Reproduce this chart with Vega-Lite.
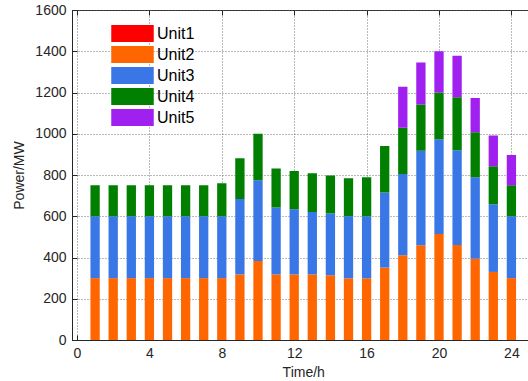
{
  "$schema": "https://vega.github.io/schema/vega-lite/v6.json",
  "width": 462.5,
  "height": 330,
  "autosize": {"type": "none"},
  "padding": {"left": 72, "top": 10, "right": 0, "bottom": 41},
  "background": "white",
  "config": {
    "font": "Liberation Sans",
    "view": {"stroke": "#262626", "strokeWidth": 1},
    "axis": {
      "labelFont": "Liberation Sans",
      "titleFont": "Liberation Sans",
      "labelFontSize": 14,
      "titleFontSize": 14,
      "titleFontWeight": "normal",
      "labelColor": "#262626",
      "titleColor": "#262626",
      "domainColor": "#262626",
      "tickColor": "#262626",
      "tickSize": -5,
      "gridColor": "#666666",
      "gridDash": [1, 2],
      "gridOpacity": 0.9
    },
    "legend": {
      "labelFont": "Liberation Sans",
      "labelFontSize": 16,
      "labelColor": "#000000"
    }
  },
  "data": {
    "values": [
      {"h": 1, "Unit1": 0, "Unit2": 300, "Unit3": 300, "Unit4": 150, "Unit5": 0},
      {"h": 2, "Unit1": 0, "Unit2": 300, "Unit3": 300, "Unit4": 150, "Unit5": 0},
      {"h": 3, "Unit1": 0, "Unit2": 300, "Unit3": 300, "Unit4": 150, "Unit5": 0},
      {"h": 4, "Unit1": 0, "Unit2": 300, "Unit3": 300, "Unit4": 150, "Unit5": 0},
      {"h": 5, "Unit1": 0, "Unit2": 300, "Unit3": 300, "Unit4": 150, "Unit5": 0},
      {"h": 6, "Unit1": 0, "Unit2": 300, "Unit3": 300, "Unit4": 150, "Unit5": 0},
      {"h": 7, "Unit1": 0, "Unit2": 300, "Unit3": 300, "Unit4": 150, "Unit5": 0},
      {"h": 8, "Unit1": 0, "Unit2": 300, "Unit3": 300, "Unit4": 160, "Unit5": 0},
      {"h": 9, "Unit1": 0, "Unit2": 318, "Unit3": 366, "Unit4": 197, "Unit5": 0},
      {"h": 10, "Unit1": 0, "Unit2": 383, "Unit3": 391, "Unit4": 226, "Unit5": 0},
      {"h": 11, "Unit1": 0, "Unit2": 318, "Unit3": 325, "Unit4": 188, "Unit5": 0},
      {"h": 12, "Unit1": 0, "Unit2": 318, "Unit3": 316, "Unit4": 185, "Unit5": 0},
      {"h": 13, "Unit1": 0, "Unit2": 318, "Unit3": 303, "Unit4": 187, "Unit5": 0},
      {"h": 14, "Unit1": 0, "Unit2": 314, "Unit3": 299, "Unit4": 185, "Unit5": 0},
      {"h": 15, "Unit1": 0, "Unit2": 299, "Unit3": 301, "Unit4": 184, "Unit5": 0},
      {"h": 16, "Unit1": 0, "Unit2": 299, "Unit3": 301, "Unit4": 189, "Unit5": 0},
      {"h": 17, "Unit1": 0, "Unit2": 351, "Unit3": 364, "Unit4": 226, "Unit5": 0},
      {"h": 18, "Unit1": 0, "Unit2": 411, "Unit3": 394, "Unit4": 224, "Unit5": 199},
      {"h": 19, "Unit1": 0, "Unit2": 459, "Unit3": 459, "Unit4": 224, "Unit5": 203},
      {"h": 20, "Unit1": 0, "Unit2": 514, "Unit3": 459, "Unit4": 227, "Unit5": 200},
      {"h": 21, "Unit1": 0, "Unit2": 461, "Unit3": 459, "Unit4": 257, "Unit5": 201},
      {"h": 22, "Unit1": 0, "Unit2": 394, "Unit3": 395, "Unit4": 218, "Unit5": 166},
      {"h": 23, "Unit1": 0, "Unit2": 330, "Unit3": 328, "Unit4": 184, "Unit5": 149},
      {"h": 24, "Unit1": 0, "Unit2": 300, "Unit3": 300, "Unit4": 150, "Unit5": 147}
    ]
  },
  "transform": [
    {"fold": ["Unit1", "Unit2", "Unit3", "Unit4", "Unit5"], "as": ["unit", "p"]}
  ],
  "layer": [
    {
      "mark": {"type": "bar", "size": 9.3, "clip": true},
      "encoding": {
        "x": {
          "field": "h",
          "type": "quantitative",
          "scale": {"domain": [0, 25], "nice": false, "zero": false},
          "axis": {
            "values": [0, 4, 8, 12, 16, 20, 24],
            "format": "d",
            "title": "Time/h",
            "grid": true,
            "labelPadding": 11,
            "titlePadding": 5
          }
        },
        "y": {
          "field": "p",
          "type": "quantitative",
          "stack": "zero",
          "scale": {"domain": [0, 1600], "nice": false},
          "axis": {
            "values": [0, 200, 400, 600, 800, 1000, 1200, 1400, 1600],
            "format": "d",
            "title": "Power/MW",
            "grid": true,
            "labelPadding": 11,
            "titlePadding": 8
          }
        },
        "color": {
          "field": "unit",
          "type": "nominal",
          "scale": {
            "domain": ["Unit1", "Unit2", "Unit3", "Unit4", "Unit5"],
            "range": ["#FF0000", "#FF6600", "#3A77E6", "#007F00", "#A020F0"]
          },
          "legend": {
            "title": null,
            "orient": "none",
            "legendX": 52,
            "legendY": 15,
            "symbolType": "M-2.5,-1H2.5V1H-2.5Z",
            "symbolSize": 289,
            "symbolStrokeWidth": 0,
            "symbolOpacity": 1,
            "labelOffset": 16,
            "rowPadding": 4
          }
        },
        "order": {"field": "unit", "sort": "ascending"}
      }
    },
    {
      "mark": {"type": "rule", "opacity": 0},
      "encoding": {
        "x": {
          "field": "h",
          "type": "quantitative",
          "axis": {
            "orient": "top",
            "values": [0, 4, 8, 12, 16, 20, 24],
            "labels": false,
            "title": null,
            "grid": false,
            "domain": false
          }
        }
      }
    }
  ],
  "resolve": {"axis": {"x": "independent"}}
}
